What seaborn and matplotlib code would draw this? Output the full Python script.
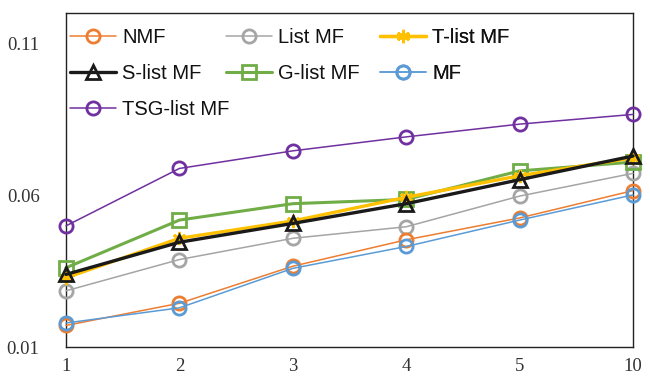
import matplotlib
matplotlib.use("Agg")
import matplotlib.pyplot as plt
from matplotlib import font_manager
from matplotlib.lines import Line2D
import seaborn as sns
import pandas as pd

x_labels = ["1", "2", "3", "4", "5", "10"]
nmf = [0.0171, 0.0244, 0.0366, 0.0453, 0.0525, 0.0615]
list_mf = [0.0285, 0.0388, 0.0458, 0.0496, 0.0597, 0.0672]
t_list = [0.0328, 0.0458, 0.0515, 0.0593, 0.0664, 0.0723]
s_list = [0.0339, 0.0445, 0.0507, 0.0572, 0.0651, 0.0729]
g_list = [0.0361, 0.0518, 0.0572, 0.0586, 0.0680, 0.0709]
mf = [0.0179, 0.0229, 0.0359, 0.0431, 0.0518, 0.0601]
tsg_list = [0.0499, 0.0688, 0.0746, 0.0792, 0.0834, 0.0866]
y_ticks = [0.01, 0.06, 0.11]

series = {
    "NMF": nmf, "List MF": list_mf, "T-list MF": t_list,
    "S-list MF": s_list, "G-list MF": g_list, "MF": mf,
    "TSG-list MF": tsg_list,
}
styles = {
    "NMF": dict(color="#ED7D31", marker="o", lw=1.1),
    "List MF": dict(color="#A5A5A5", marker="o", lw=1.1),
    "T-list MF": dict(color="#FFC000", marker=(6, 2, 0), lw=2.4),
    "S-list MF": dict(color="#1a1a1a", marker="^", lw=2.4),
    "G-list MF": dict(color="#70AD47", marker="s", lw=2.2),
    "MF": dict(color="#5B9BD5", marker="o", lw=1.1),
    "TSG-list MF": dict(color="#7030A0", marker="o", lw=1.1),
}

names = {f.name for f in font_manager.fontManager.ttflist}
leg_font = "Liberation Sans Narrow" if "Liberation Sans Narrow" in names else "Liberation Sans"

sns.set_theme(style="white")
plt.rcParams["font.family"] = ["Liberation Serif", "DejaVu Sans"]

fig = plt.figure(figsize=(6.5, 3.78), dpi=100)
ax = fig.add_axes([66/650, 1-347/378, (633-66)/650, (347-13)/378])

rows = []
for name, vals in series.items():
    for i, v in enumerate(vals):
        rows.append({"series": name, "x": i, "y": v})
df = pd.DataFrame(rows)

draw_order = ["List MF", "NMF", "MF", "G-list MF", "T-list MF", "S-list MF", "TSG-list MF"]
for name in draw_order:
    st = styles[name]
    sub = df[df["series"] == name]
    sns.lineplot(data=sub, x="x", y="y", ax=ax, color=st["color"], lw=st["lw"],
                 marker=st["marker"], markersize=9.5, markerfacecolor="none",
                 markeredgecolor=st["color"], markeredgewidth=2.0, legend=False,
                 clip_on=False, zorder=3)

ax.set_xlim(0, 5)
ax.set_ylim(0.01, 0.12)
ax.set_xticks(range(6))
ax.set_xticklabels(x_labels)
ax.set_yticks(y_ticks)
ax.set_yticklabels([f"{t:.2f}" for t in y_ticks])
ax.set_xlabel("")
ax.set_ylabel("")
ax.tick_params(axis="both", length=0, labelsize=13.5, colors="#333333")
ax.tick_params(axis="y", pad=19)
ax.tick_params(axis="x", pad=8)
for sp in ax.spines.values():
    sp.set_color("#222222")
    sp.set_linewidth(1.0)

cols = [["NMF", "S-list MF", "TSG-list MF"], ["List MF", "G-list MF"], ["T-list MF", "MF"]]
col_x = [70, 226, 380]
for cx, col in zip(col_x, cols):
    handles = []
    for name in col:
        st = styles[name]
        handles.append(Line2D([], [], color=st["color"], lw=st["lw"], marker=st["marker"],
                              markersize=9.5, markerfacecolor="none",
                              markeredgecolor=st["color"], markeredgewidth=2.0))
    leg = ax.legend(handles, col, loc="upper left",
                    bbox_to_anchor=(cx/650, 1-28/378), bbox_transform=fig.transFigure,
                    frameon=False, handlelength=2.3, handletextpad=0.3,
                    labelspacing=0.85, borderaxespad=0, borderpad=0,
                    prop={"family": leg_font, "size": 14.5})
    for t in leg.get_texts():
        t.set_color("#111111")
    ax.add_artist(leg)

fig.savefig("out.png", dpi=100)
